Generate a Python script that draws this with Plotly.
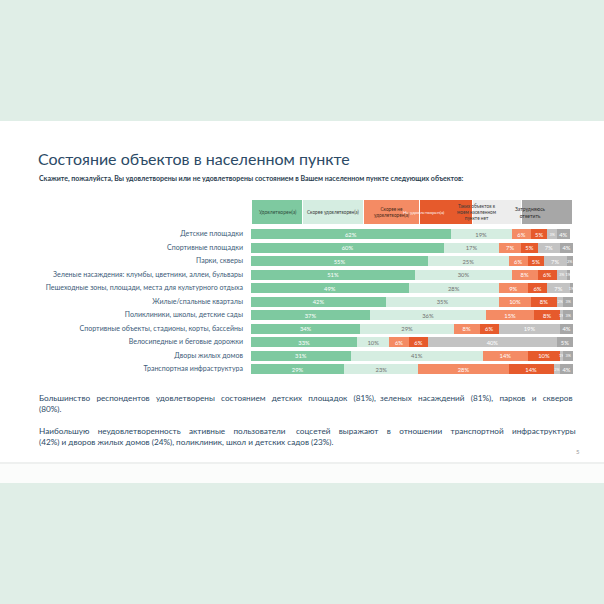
import plotly.graph_objects as go

categories = [
    "Детские площадки",
    "Спортивные площадки",
    "Парки, скверы",
    "Зеленые насаждения: клумбы, цветники, аллеи, бульвары",
    "Пешеходные зоны, площади, места для культурного отдыха",
    "Жилые/спальные кварталы",
    "Поликлиники, школы, детские сады",
    "Спортивные объекты, стадионы, корты, бассейны",
    "Велосипедные и беговые дорожки",
    "Дворы жилых домов",
    "Транспортная инфраструктура",
]
series_names = [
    "Удовлетворен(а)",
    "Скорее удовлетворен(а)",
    "Скорее не<br>удовлетворен(а)",
    "Не удовлетворен(а)",
    "Таких объектов в<br>моем населенном<br>пункте нет",
    "Затрудняюсь<br>ответить",
]
satisfied = [62, 60, 55, 51, 49, 42, 37, 34, 33, 31, 29]
rather_satisfied = [19, 17, 25, 30, 28, 35, 36, 29, 10, 41, 23]
rather_not = [6, 7, 6, 8, 9, 10, 15, 8, 6, 14, 28]
not_satisfied = [5, 5, 5, 6, 6, 8, 8, 6, 6, 10, 14]
no_objects = [3, 7, 7, 3, 7, 2, 1, 19, 40, 1, 2]
hard_to_say = [4, 4, 2, 1, 1, 3, 3, 4, 5, 3, 4]

series_values = [satisfied, rather_satisfied, rather_not, not_satisfied, no_objects, hard_to_say]
colors = ["#7ec9a0", "#d5ede1", "#f48b64", "#e65a2c", "#c3c3c3", "#a7a7a7"]
text_colors = ["white", "#707070", "white", "white", "white", "white"]

W = H = 604
def px(x):
    return x / W
def py(y):
    return 1 - y / H

fig = go.Figure()
for vals, name, col, tcol in zip(series_values, series_names, colors, text_colors):
    fig.add_trace(go.Bar(
        y=categories, x=vals, orientation="h", name=name,
        marker=dict(color=col, line=dict(width=0)),
        text=[f"{v}%" for v in vals], textposition="inside",
        insidetextanchor="middle", textangle=0, cliponaxis=False,
        textfont=dict(size=[5.8 if v >= 4 else 3.9 for v in vals], color=tcol, family="Lato"),
        hoverinfo="skip",
    ))

shapes = [
    dict(type="rect", xref="paper", yref="paper", x0=0, x1=1, y0=py(483), y1=py(121),
         fillcolor="#fbfcfb", line=dict(width=0), layer="below"),
    dict(type="rect", xref="paper", yref="paper", x0=0, x1=1, y0=py(462), y1=py(121),
         fillcolor="white", line=dict(width=0), layer="below"),
    dict(type="line", xref="paper", yref="paper", x0=0, x1=1, y0=py(463), y1=py(463),
         line=dict(color="#eef0ef", width=2), layer="below"),
]
annotations = []

# header boxes
box_x = [252, 303, 364, 420, 473, 522, 573]
box_fill = ["#7ec9a0", "#d5ede1", "#f48b64", "#e65a2c", "#ededed", "#a7a7a7"]
box_tc = ["#2f4f3f", "#3a3a3a", "#4a2a1a", "#fff3ee", "#3a3a3a", "#2a2a2a"]
box_fs = [5, 4.7, 4.7, 4.6, 4.7, 5]
for i, name in enumerate(series_names):
    shapes.append(dict(type="rect", xref="paper", yref="paper",
                       x0=px(box_x[i]), x1=px(box_x[i + 1] - 1), y0=py(224), y1=py(200),
                       fillcolor=box_fill[i], line=dict(width=0)))
    annotations.append(dict(xref="paper", yref="paper", x=px((box_x[i] + box_x[i + 1]) / 2),
                            y=py(212), text=name, showarrow=False,
                            font=dict(size=box_fs[i], color=box_tc[i], family="Lato")))

annotations += [
    dict(xref="paper", yref="paper", x=px(36), y=py(158), xanchor="left", yanchor="middle",
         text="Состояние объектов в населенном пункте", showarrow=False,
         font=dict(size=16, color="#2c4a66", family="Lato")),
    dict(xref="paper", yref="paper", x=px(37), y=py(178), xanchor="left", yanchor="middle",
         text="<b>Скажите, пожалуйста, Вы удовлетворены или не удовлетворены состоянием в Вашем населенном пункте следующих объектов:</b>",
         showarrow=False, font=dict(size=7.0, color="#2c3e50", family="Lato")),
    dict(xref="paper", yref="paper", x=px(578), y=py(451), xanchor="center", yanchor="middle",
         text="5", showarrow=False, font=dict(size=6, color="#999999", family="Lato")),
]

BODY_SIZE = 8.2
NBSP_W = 0.37 * BODY_SIZE

def justify(text, extra_px):
    words = text.split(" ")
    gaps = len(words) - 1
    per_gap = extra_px / gaps
    out = words[0]
    acc = 0.0
    for i, w in enumerate(words[1:], 1):
        target = per_gap * i
        n = int(round((target - acc) / NBSP_W))
        acc += n * NBSP_W
        out += " " + "\u00a0" * n + w
    return out

body_lines = [
    (justify("Большинство респондентов удовлетворены состоянием детских площадок (81%), зеленых насаждений (81%), парков и скверов", 70), 398),
    ("(80%).", 409),
    (justify("Наибольшую неудовлетворенность активные пользователи соцсетей выражают в отношении транспортной инфраструктуры", 86), 431),
    ("(42%) и дворов жилых домов (24%), поликлиник, школ и детских садов (23%).", 442),
]
for t, yy in body_lines:
    annotations.append(dict(xref="paper", yref="paper", x=px(37), y=py(yy), xanchor="left",
                            yanchor="middle", text=t, showarrow=False,
                            font=dict(size=BODY_SIZE, color="#2c4a66", family="Lato")))

fig.update_layout(
    width=W, height=H, margin=dict(l=0, r=0, t=0, b=0),
    paper_bgcolor="#e0eee7", plot_bgcolor="rgba(0,0,0,0)",
    barmode="stack", bargap=0.26, showlegend=False,
    uniformtext=dict(minsize=3.9, mode="show"),
    xaxis=dict(domain=[px(251), px(573)], range=[0, 100], visible=False, fixedrange=True),
    yaxis=dict(domain=[py(375.75), py(227.25)], autorange="reversed", showgrid=False,
               zeroline=False, showline=False, ticks="", ticklabelstandoff=7,
               fixedrange=True,
               tickfont=dict(size=7.05, color="#3c5b78", family="Lato")),
    shapes=shapes, annotations=annotations,
)
fig.write_html("out.html", config={"displayModeBar": False},
               post_script="document.body.style.margin='0';")
